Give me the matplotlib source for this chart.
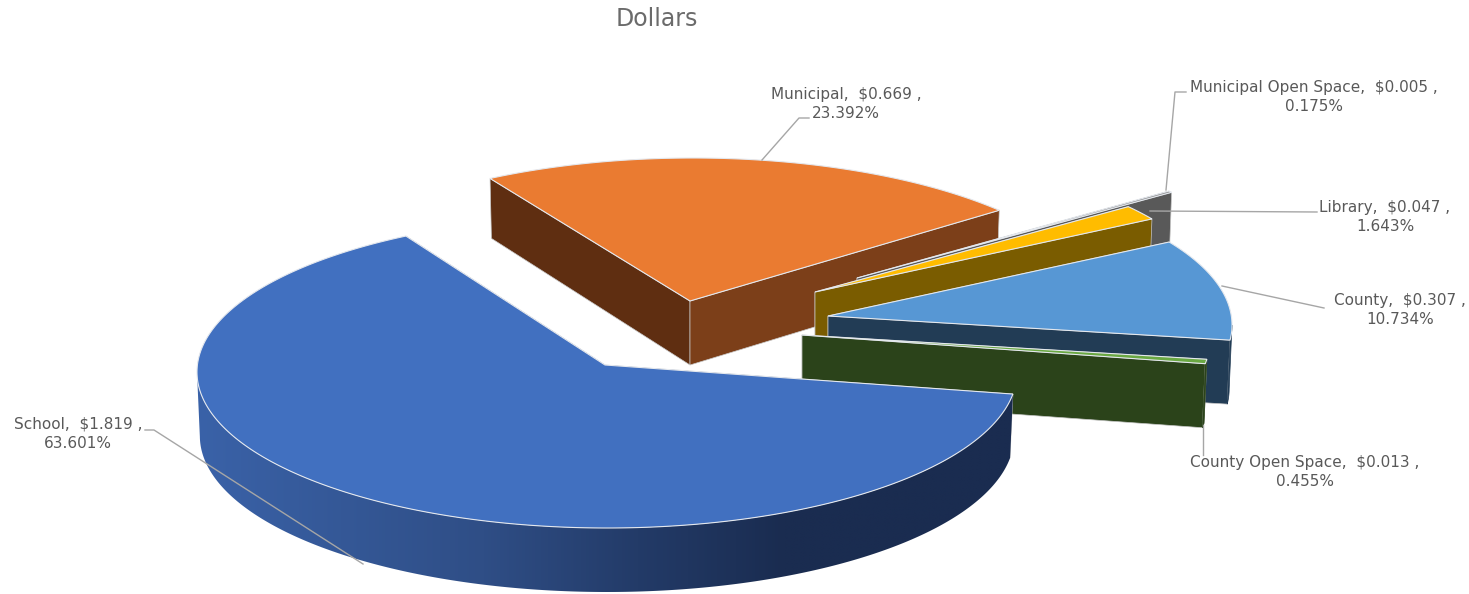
import numpy as np
import matplotlib
matplotlib.use('Agg')
import matplotlib.pyplot as plt
from matplotlib.colors import LinearSegmentedColormap
from matplotlib.patches import Polygon

categories = ['School', 'Municipal', 'Municipal Open Space', 'Library', 'County', 'County Open Space']
dollars = [1.819, 0.669, 0.005, 0.047, 0.307, 0.013]
percents = [63.601, 23.392, 0.175, 1.643, 10.734, 0.455]

top_colors = ['#4170c0', '#ea7b31', '#8c8c8c', '#ffbc00', '#5797d4', '#6aa842']
wall_start = ['#1a2c50', '#5f2e11', '#595959', '#7a5c00', '#223c55', '#2b431a']
wall_end = ['#1a2c50', '#7c3f19', '#595959', '#7a5c00', '#223c55', '#2b431a']

# picture layout in pixels, one per slice
apex = [(605, 365), (690, 301), (857, 278), (815, 292), (828, 316), (802, 335)]
center = [(607, 372), (693, 314), (852, 290), (810, 305), (822, 325), (800, 340)]
turn = [0, 1.4, 0, 0, 0, 0]  # perspective turns the far slice a bit
RX, RY = 410, 156
DEPTH = 64
TAPER = 0.007  # walls lean inwards a little at the bottom
FAR = 0.033    # and get shorter towards the back
START_ANGLE = -10.6

label_pos = [(78, 434), (846, 104), (1314, 97), (1385, 217), (1400, 310), (1305, 472)]
leaders = [
    [(145, 430), (154, 430), (363, 564)],
    [(762, 160), (799, 118), (809, 118)],
    [(1166, 190), (1175, 92), (1186, 92)],
    [(1150, 211), (1317, 212)],
    [(1222, 286), (1324, 308)],
    [(1203, 425), (1203, 455)],
]

school_wall = LinearSegmentedColormap.from_list(
    'school_wall', [(0, '#3a62a8'), (0.35, '#2f4e86'), (0.54, '#233b68'), (0.72, '#1a2c50'), (1, '#1a2c50')])


def rim(i, angles):
    ax0, ay0 = apex[i]
    cx, cy = center[i]
    px, py = (ax0 - cx) / RX, (cy - ay0) / RY
    dx, dy = np.cos(np.radians(angles)), np.sin(np.radians(angles))
    b = px * dx + py * dy
    t = -b + np.sqrt(b ** 2 - (px ** 2 + py ** 2 - 1))
    return cx + RX * (px + t * dx), cy - RY * (py + t * dy)


def lower(i, x, y):
    x0, y0 = apex[i]
    return x + (x0 - x) * TAPER, y + DEPTH + np.minimum(0, y - y0) * FAR


fig = plt.figure(figsize=(14.69, 5.94), dpi=100)
ax = fig.add_axes([0, 0, 1, 1])

shares = np.array(dollars) / sum(dollars) * 360
edges = START_ANGLE - np.concatenate([[0], np.cumsum(shares)])

# back to front
z = 1
for i in [1, 2, 3, 4, 5, 0]:
    angles = np.linspace(edges[i], edges[i + 1], 500) + turn[i]
    xs, ys = rim(i, angles)
    x0, y0 = apex[i]

    for end, color in [(0, wall_start[i]), (-1, wall_end[i])]:
        bx, by = lower(i, xs[end], ys[end])
        side = [(x0, y0), (xs[end], ys[end]), (bx, by), (x0, y0 + DEPTH)]
        ax.add_patch(Polygon(side, closed=True, facecolor=color, edgecolor='#c8c8c8', linewidth=0.5, zorder=z))
        z += 1

    front = ys > center[i][1]
    if front.any():
        fx, fy = xs[front], ys[front]
        bx, by = lower(i, fx, fy)
        outline = list(zip(fx, fy)) + list(zip(bx[::-1], by[::-1]))
        if i == 0:
            im = ax.imshow(np.linspace(0, 1, 512)[None, :], cmap=school_wall, extent=(197, 1014, 600, 360),
                           aspect='auto', zorder=z, interpolation='bilinear')
            im.set_clip_path(Polygon(outline, closed=True, transform=ax.transData))
        else:
            ax.add_patch(Polygon(outline, closed=True, facecolor=wall_end[i], edgecolor=wall_end[i],
                                 linewidth=0.5, zorder=z))
        z += 1

    top = [(x0, y0)] + list(zip(xs, ys))
    ax.add_patch(Polygon(top, closed=True, facecolor=top_colors[i], edgecolor='#e4e8ee', linewidth=0.8, zorder=z))
    z += 1

for pts in leaders:
    ax.plot([p[0] for p in pts], [p[1] for p in pts], color='#a6a6a6', lw=1, zorder=z)

for name, val, pct, (lx, ly) in zip(categories, dollars, percents, label_pos):
    ax.text(lx, ly, f'{name},  ${val:.3f} ,\n{pct:.3f}%', ha='center', va='center', color='#595959',
            fontsize=11, family='DejaVu Sans', linespacing=1.37, zorder=z + 1)

ax.text(657, 19, 'Dollars', ha='center', va='center', color='#6b6b6b', fontsize=17, family='DejaVu Sans')

ax.set_xlim(0, 1469)
ax.set_ylim(594, 0)
ax.axis('off')

fig.savefig('out.png', dpi=100)
